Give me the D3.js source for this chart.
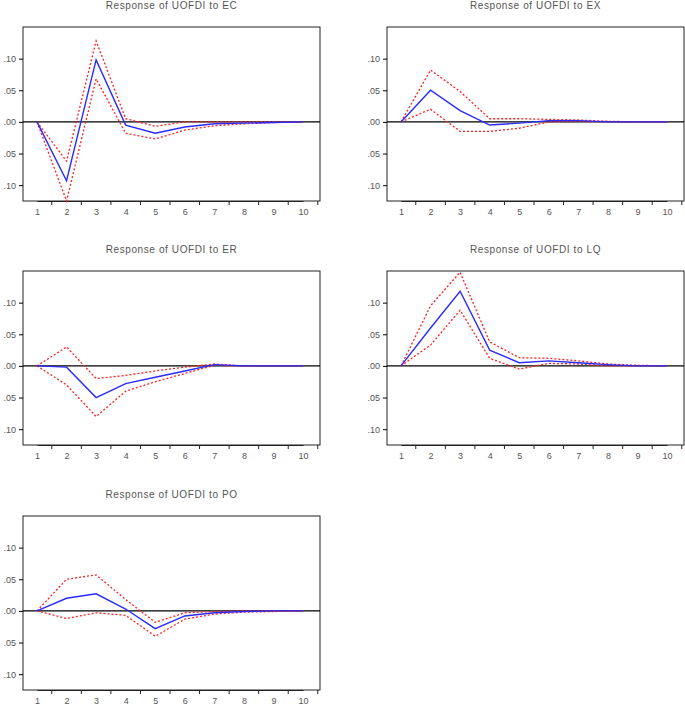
<!DOCTYPE html>
<html><head><meta charset="utf-8">
<script src="https://cdn.jsdelivr.net/npm/d3@7"></script>
<style>body{margin:0;background:#fff}</style>
</head><body>
<script>
const periods = [1,2,3,4,5,6,7,8,9,10]
const yTicks = [0.10,0.05,0,-0.05,-0.10]
const titles = ["Response of UOFDI to EC","Response of UOFDI to EX","Response of UOFDI to ER","Response of UOFDI to LQ","Response of UOFDI to PO"]

const ecMid = [0,-0.093,0.098,-0.005,-0.018,-0.008,-0.003,-0.002,-0.001,0]
const ecUp  = [0,-0.062,0.128,0.005,-0.007,0,0,0,0,0]
const ecLow = [0,-0.125,0.068,-0.018,-0.027,-0.013,-0.006,-0.003,-0.001,0]
const exMid = [0,0.05,0.018,-0.005,-0.002,0.002,0.002,0,0,0]
const exUp  = [0,0.082,0.048,0.005,0.005,0.004,0.003,0.001,0,0]
const exLow = [0,0.02,-0.015,-0.015,-0.01,0,0.001,0,0,0]
const erMid = [0,-0.002,-0.05,-0.028,-0.018,-0.008,0.002,0,0,0]
const erUp  = [0,0.03,-0.02,-0.015,-0.008,-0.002,0.003,0,0,0]
const erLow = [0,-0.03,-0.08,-0.04,-0.025,-0.012,0.001,0,0,0]
const lqMid = [0,0.06,0.118,0.025,0.005,0.008,0.005,0.002,0,0]
const lqUp  = [0,0.095,0.148,0.038,0.013,0.012,0.008,0.003,0.001,0]
const lqLow = [0,0.033,0.088,0.012,-0.005,0.004,0.003,0,0,0]
const poMid = [0,0.02,0.027,0.003,-0.028,-0.008,-0.003,-0.001,0,0]
const poUp  = [0,0.05,0.057,0.018,-0.018,-0.003,-0.001,0,0,0]
const poLow = [0,-0.012,-0.003,-0.007,-0.04,-0.013,-0.005,-0.002,-0.001,0]

const panels = [
    {title: titles[0], mid: ecMid, up: ecUp, low: ecLow, x: 23, y: 27},
    {title: titles[1], mid: exMid, up: exUp, low: exLow, x: 387, y: 27},
    {title: titles[2], mid: erMid, up: erUp, low: erLow, x: 23, y: 271},
    {title: titles[3], mid: lqMid, up: lqUp, low: lqLow, x: 387, y: 271},
    {title: titles[4], mid: poMid, up: poUp, low: poLow, x: 23, y: 516}
]

const pw = 297, ph = 174
const svg = d3.select("body").append("svg").attr("width", 685).attr("height", 706)
    .style("font-family", "Liberation Sans, Arial, sans-serif")

const fmt = v => (v == 0 ? ".00" : "." + d3.format("02d")(Math.round(Math.abs(v) * 100)))

panels.forEach(p => {
    let g = svg.append("g").attr("transform", "translate(" + p.x + "," + p.y + ")")
    let xScale = d3.scalePoint().domain(periods).range([14, pw - 17])
    let yScale = d3.scaleLinear().domain([-0.125, 0.15]).range([ph, 0])

    g.append("text").attr("x", pw / 2).attr("y", -18).attr("text-anchor", "middle")
        .attr("font-size", 10).attr("fill", "#555").attr("letter-spacing", 0.6).text(p.title)

    g.append("rect").attr("width", pw).attr("height", ph).attr("fill", "none").attr("stroke", "#222")

    let yAxis = g.append("g").call(d3.axisLeft(yScale).tickValues(yTicks).tickFormat(fmt).tickSize(4))
    yAxis.select(".domain").remove()
    yAxis.selectAll("text").attr("fill", "#555").attr("font-size", 9)

    // x 轴刻度线在格点之间
    let xAxis = g.append("g").attr("transform", "translate(0," + ph + ")")
        .call(d3.axisBottom(xScale).tickSize(0).tickPadding(8))
    xAxis.select(".domain").attr("stroke", "#222")
    xAxis.selectAll("text").attr("fill", "#555").attr("font-size", 9)
    let step = xScale.step()
    periods.forEach(d => {
        g.append("line").attr("x1", xScale(d) + step / 2).attr("x2", xScale(d) + step / 2)
            .attr("y1", ph).attr("y2", ph + 4).attr("stroke", "#222")
    })

    g.append("line").attr("x1", 0).attr("x2", pw).attr("y1", yScale(0)).attr("y2", yScale(0))
        .attr("stroke", "#000").attr("stroke-width", 1.3)

    let line = d3.line().x((d, i) => xScale(periods[i])).y(d => yScale(d))
    g.append("path").datum(p.up).attr("d", line).attr("fill", "none")
        .attr("stroke", "#ff2020").attr("stroke-width", 1.3).attr("stroke-dasharray", "2,2")
    g.append("path").datum(p.low).attr("d", line).attr("fill", "none")
        .attr("stroke", "#ff2020").attr("stroke-width", 1.3).attr("stroke-dasharray", "2,2")
    g.append("path").datum(p.mid).attr("d", line).attr("fill", "none")
        .attr("stroke", "#2a2aff").attr("stroke-width", 1.4)
})
</script>
</body></html>
